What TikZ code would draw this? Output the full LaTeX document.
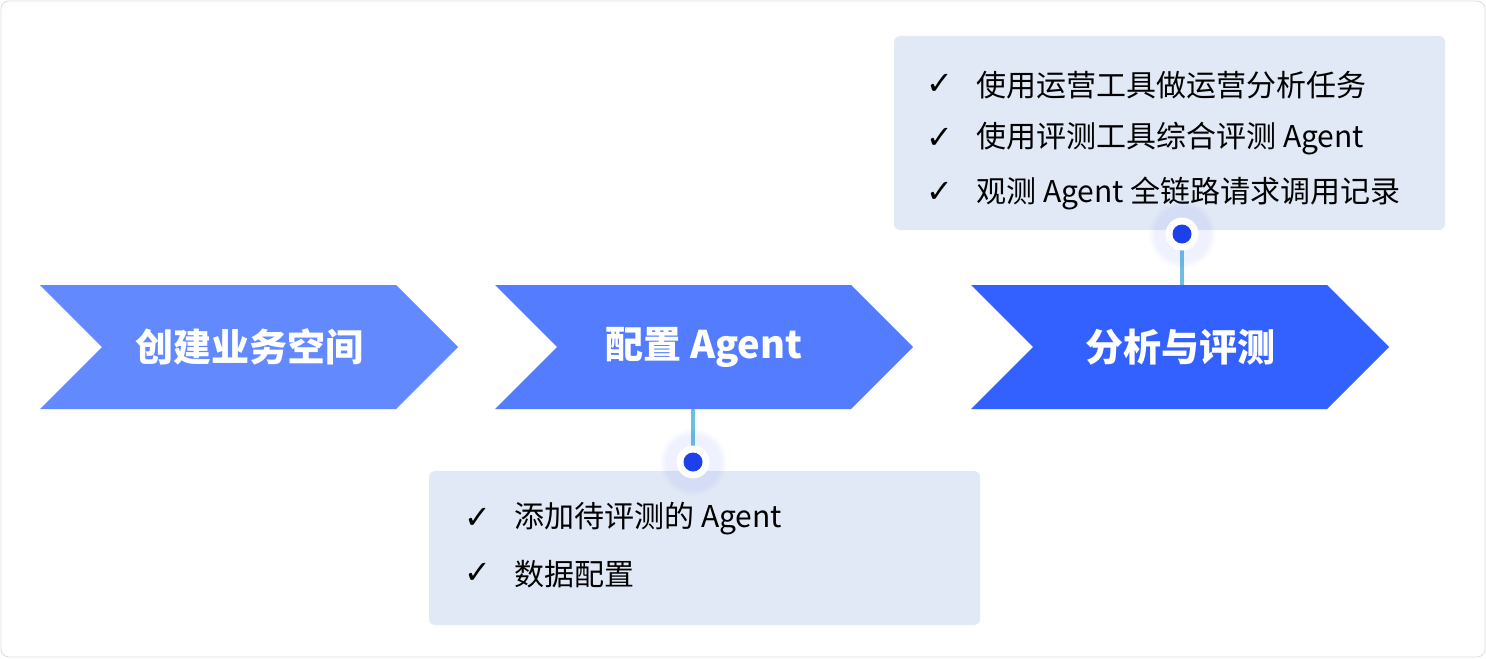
\documentclass[tikz,border=0pt]{standalone}
\usepackage{fontspec}
\setmainfont{Noto Sans CJK SC}
\newfontfamily\tickfont{DejaVu Sans}
\usetikzlibrary{positioning, fadings}
\definecolor{frameline}{HTML}{DCDCDC}
\definecolor{chevA}{HTML}{6389FF}
\definecolor{chevB}{HTML}{537CFF}
\definecolor{chevC}{HTML}{3361FF}
\definecolor{boxbg}{HTML}{E2E9F6}
\definecolor{stem}{HTML}{6EBDE3}
\definecolor{dotblue}{HTML}{1E40EC}

\tikzset{
  chevlabel/.style={text=white, font=\bfseries\fontsize{19}{22}\selectfont, minimum height=62pt, inner sep=0pt},
  note/.style={anchor=west, inner sep=0pt, font=\fontsize{15}{18}\selectfont},
  tick/.style={inner sep=0pt, font=\tickfont\fontsize{16}{18}\selectfont},
  notebox/.style={fill=boxbg, rounded corners=3pt, minimum width=275.5pt, inner sep=0pt},
  stemline/.style={stem, line width=2pt},
  halo/.style={fill=dotblue, opacity=0.07, path fading=circle with fuzzy edge 20 percent},
  pin/.style={circle, fill=white, minimum size=16.5pt, inner sep=0pt},
  pindot/.style={circle, fill=dotblue, minimum size=9.5pt, inner sep=0pt},
}

\begin{document}
\begin{tikzpicture}[x=0.5pt, y=-0.5pt]
  \useasboundingbox (0,0) rectangle (1486,658);
  \draw[frameline, rounded corners=4pt] (1,1) rectangle (1485,657);

  % Pfeile der drei Phasen
  \foreach \x/\col in {40/chevA, 495/chevB, 971/chevC} {
    \fill[\col] (\x,285) -- ++(356,0) -- ++(62,62) -- ++(-62,62) -- ++(-356,0) -- ++(62,-62) -- cycle;
  }
  \node[chevlabel] (phase1) at (249,347) {创建业务空间};
  \node[chevlabel] (phase2) at (704,347) {配置 Agent};
  \node[chevlabel] (phase3) at (1180,347) {分析与评测};

  % Kasten oben
  \node[notebox, minimum height=97pt] (boxtop) at (1169.5,133) {};
  \node[tick] (tk1) at (940,84) {✓};
  \node[note] (nt1) at (976,85) {使用运营工具做运营分析任务};
  \node[tick] (tk2) at (940,138) {✓};
  \node[note] (nt2) at (976,139) {使用评测工具综合评测 Agent};
  \node[tick] (tk3) at (940,192) {✓};
  \node[note] (nt3) at (976,193) {观测 Agent 全链路请求调用记录};

  \coordinate (p3) at (1182,234);
  \draw[stemline] (p3) -- (p3 |- phase3.north);
  \fill[halo] (p3) circle (34);
  \node[pin] (pin3) at (p3) {};
  \node[pindot] (dot3) at (pin3) {};

  % Kasten unten
  \node[notebox, minimum height=77pt] (boxbot) at (704.5,548) {};
  \node[tick] (tk4) at (478,518) {✓};
  \node[note] (nt4) at (514,519) {添加待评测的 Agent};
  \node[tick] (tk5) at (478,573) {✓};
  \node[note] (nt5) at (514,574) {数据配置};

  \coordinate (p2) at (693,462);
  \draw[stemline] (p2 |- phase2.south) -- (p2);
  \fill[halo] (p2) circle (34);
  \node[pin] (pin2) at (p2) {};
  \node[pindot] (dot2) at (pin2) {};
\end{tikzpicture}
\end{document}
